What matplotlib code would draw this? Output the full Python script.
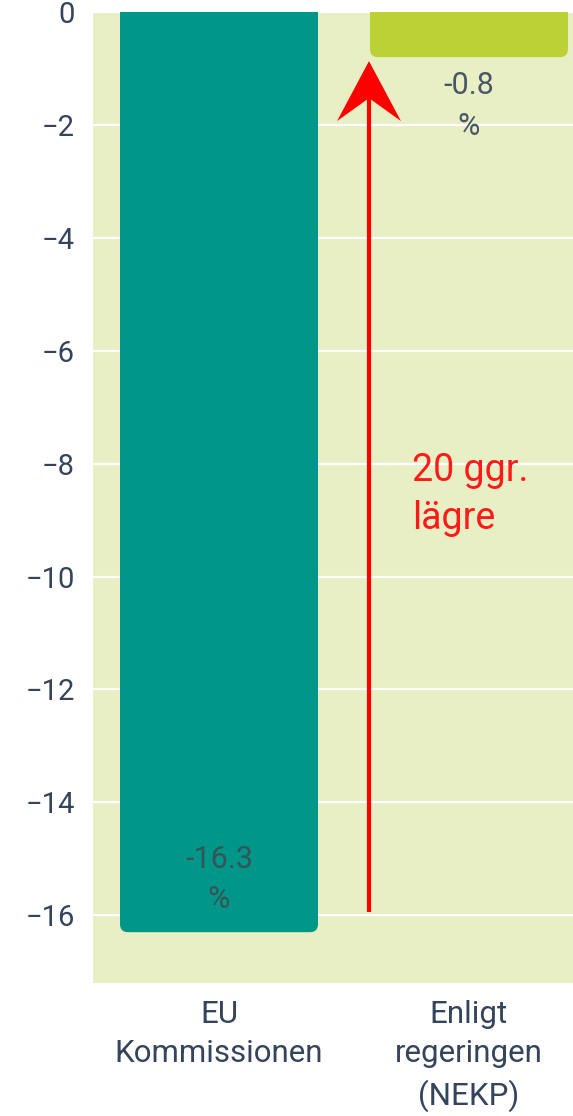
import matplotlib
matplotlib.use("Agg")
import matplotlib.pyplot as plt
from matplotlib.patches import FancyBboxPatch, Polygon
from matplotlib.transforms import ScaledTranslation

categories = ["EU\nKommissionen", "Enligt\nregeringen\n(NEKP)"]
values = [-16.3, -0.8]
value_labels = ["-16.3\n%", "-0.8\n%"]
bar_colors = ["#009689", "#bcd135"]
yticks = [0, -2, -4, -6, -8, -10, -12, -14, -16]
annotation_text = "20 ggr.\nlägre"

plt.rcParams['font.family'] = ['Roboto', 'DejaVu Sans']

W, H = 573, 1116
fig = plt.figure(figsize=(W / 100, H / 100), dpi=100)
ax = fig.add_axes([93 / W, 1 - 983 / H, (573 - 93) / W, (983 - 12) / H])
ax.set_facecolor("#e9efc4")

x = list(range(len(categories)))
bw = 0.792
bars = ax.bar(x, values, width=bw, color=bar_colors, zorder=2)

# bottom-rounded bars (top extended past the axis so only bottom corners show)
for b, c in zip(bars, bar_colors):
    b.set_visible(False)
    x0 = b.get_x()
    h = b.get_height()
    ext = 0.5
    p = FancyBboxPatch((x0, h), b.get_width(), -h + ext,
                       boxstyle="round,pad=0,rounding_size=0.032",
                       mutation_aspect=4.43,
                       facecolor=c, edgecolor="none", zorder=2)
    ax.add_patch(p)

ax.set_xlim(-0.504, 1.416)
ax.set_ylim(-17.2, 0)
ax.set_yticks(yticks)
ax.set_yticklabels([f"{t}".replace("-", "\u2212") for t in yticks])
ax.set_xticks(x)
ax.set_xticklabels(categories, linespacing=1.45)
ax.grid(axis="y", color="white", linewidth=1.6, zorder=0)
ax.set_axisbelow(True)
for s in ax.spines.values():
    s.set_visible(False)
ax.tick_params(axis="y", length=0, pad=13, labelsize=21, labelcolor="#34445c")
ax.tick_params(axis="x", length=0, pad=12, labelsize=22.5, labelcolor="#34445c")

# value labels
ax.annotate(value_labels[0], (x[0], values[0]), xytext=(0, 13), textcoords="offset points",
            ha="center", va="bottom", fontsize=22, color="#3f4a4f", alpha=0.85,
            linespacing=1.5)
ax.annotate(value_labels[1], (x[1], values[1]), xytext=(0, -10), textcoords="offset points",
            ha="center", va="top", fontsize=22, color="#4a5668",
            linespacing=1.5)

# red arrow: shaft + notched head
arrow_x = 0.6
arrow_start = -15.95
arrow_tip = values[1] - 0.07
ax.plot([arrow_x, arrow_x], [arrow_start, arrow_tip - 0.6], color="#ff0000", lw=3,
        solid_capstyle="butt", zorder=4)
head_tr = fig.dpi_scale_trans + ScaledTranslation(arrow_x, arrow_tip, ax.transData)
head = Polygon([(0, 0), (0.32, -0.60), (0, -0.37), (-0.32, -0.60)], closed=True,
               transform=head_tr, facecolor="#ff0000", edgecolor="none", zorder=4)
ax.add_patch(head)

ax.text(0.772, -7.8, annotation_text, color="#ff1a1a", fontsize=27,
        ha="left", va="top", linespacing=1.38, zorder=4)

fig.savefig("out.png", dpi=100)
